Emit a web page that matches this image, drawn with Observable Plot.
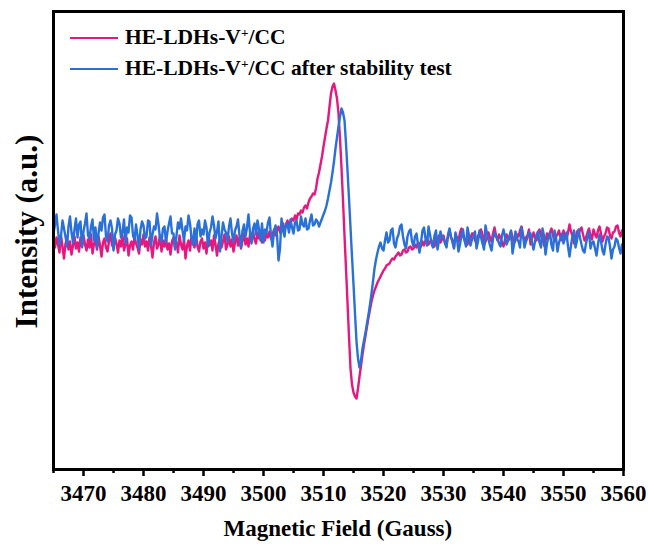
<!DOCTYPE html>
<html>
<head>
<meta charset="utf-8">
<script src="https://cdn.jsdelivr.net/npm/d3@7"></script>
<script src="https://cdn.jsdelivr.net/npm/@observablehq/plot@0.6"></script>
<style>
  html, body { margin: 0; padding: 0; background: #fff; }
  #wrap { position: relative; width: 648px; height: 547px; font-family: 'Liberation Serif', 'Times New Roman', serif; font-weight: bold; color: #000; }
  .lab { position: absolute; white-space: nowrap; line-height: 1; }
  .leg { position: absolute; left: 70px; height: 24px; display: flex; align-items: center; font-size: 21.5px; white-space: nowrap; line-height: 1; }
  .leg .sw { width: 48px; height: 0; border-top: 2.5px solid; margin-right: 7px; }
  sup { font-size: 0.62em; vertical-align: 0.55em; line-height: 0; }
</style>
</head>
<body>
<div id="wrap"></div>
<script>
// Sampling grid of the spectrum (Gauss)
const fieldStart = 3465;
const fieldStep = 0.25;
const fieldCount = 381;

// Series: HE-LDHs-V+/CC (a.u.), one row = 5 G
const seriesRed = [
  -2, -9, 1, -6, -14, 3, -8, -20, -5, 0, -11, -3, -16, -7, 2, -10, -4, -13, 1, -8,
  3, -6, -12, -1, -9, 4, -15, -5, -2, -11, 2, -7, -18, -4, 0, -9, -13, -3, 5, -6,
  -10, 1, -5, -14, -2, -8, 3, -12, -6, 0, -17, -7, -3, -11, 2, -5, -9, -15, -1, -6,
  4, -8, -3, -12, 1, -7, -19, -4, 2, -10, -6, 3, -13, -2, -8, 0, -11, -5, -16, -3,
  1, -9, -4, -14, 3, -6, -11, -1, -20, -7, -2, -12, 2, -5, -9, 4, -8, -13, -3, 0,
  -10, -4, -15, 1, -7, -2, -12, 3, -6, -17, -5, 0, -9, -3, 4, -11, -6, 2, -8, -1,
  -13, -4, 3, -7, 1, -10, -2, 5, -6, 0, -8, 4, -3, 7, -1, -5, 6, 0, 3, -4,
  2, -2, 5, 1, 7, 0, 4, 9, 3, 8, 12, 6, 10, 15, 9, 13, 18, 12, 16, 20,
  18, 23, 19, 25, 24, 28, 26, 31, 33, 30, 36, 40, 42, 45, 44, 50, 60, 66, 74, 82,
  92, 101, 110, 118, 132, 145, 152, 155, 148, 140, 125, 100, 71, 38, 3, -30, -64, -98, -130, -146,
  -154, -158, -160, -150, -138, -127, -116, -106, -97, -88, -79, -71, -63, -57, -52, -48, -44, -41, -38, -35,
  -32, -30, -27, -26, -25, -22, -20, -21, -18, -16, -14, -17, -16, -12, -11, -14, -13, -9, -8, -11,
  -10, -6, -9, -4, -5, -8, -3, -7, -2, 1, -6, -3, -2, -7, -8, -1, 0, 3, -4, -1,
  3, -4, -6, 2, 8, 1, -2, -9, 4, 0, -3, 6, 10, 2, -1, -5, -6, 3, 0, 5,
  5, -2, -4, 3, 2, 9, 4, -7, -3, 0, 6, 1, -3, 5, 11, 3, -2, 4, 0, -4,
  -8, -1, 4, 0, -1, 7, 2, -5, -2, 4, 2, 8, 12, 3, -4, 1, 3, 9, -6, 0,
  6, 1, -2, 5, 9, 2, 1, -7, -2, 5, 0, 6, 10, 3, -3, 2, 4, 8, 1, -2,
  8, 3, -1, 6, 14, 7, 2, -5, -1, 7, 3, 9, 11, 4, -2, 1, 6, 10, 3, -1,
  9, 4, 1, 8, 12, 5, -3, 2, 5, 11, 10, 3, 0, 6, 7, 12, 13, 6, 2, 8,
  4
];

// Series: HE-LDHs-V+/CC after stability test (a.u.), one row = 5 G
const seriesBlue = [
  5, 14, 24, 8, -6, 3, 18, 10, 2, -8, 12, 22, 6, -4, 9, 20, 1, 14, 17, -9,
  7, 15, 25, 3, 0, 12, 19, -2, 11, -9, 5, 16, 8, 21, 24, 2, -3, 13, 18, 10,
  -12, 4, 8, 20, 15, 1, 6, 19, -5, 11, 6, 23, 21, 3, -1, 14, 3, -10, 9, 17,
  13, 0, 2, 18, 17, -7, 4, 12, 9, 25, 14, 0, -3, 10, 12, -4, 7, 15, 22, 5,
  5, -11, 3, 16, 10, 20, 8, -2, 12, 8, 23, 15, 1, -6, 10, -6, 14, 18, 2, 9,
  4, 18, 11, -8, 6, 11, 22, 13, 0, 7, 17, -13, 2, 16, 9, 6, -3, 12, 20, 5,
  -3, 8, 12, 19, 3, -9, 8, 14, 2, 11, 24, 6, -5, 10, 15, 4, 18, 9, -2, 15,
  -4, 9, 6, 16, 21, 3, -8, 7, 13, 4, -22, -10, 20, 8, 2, 15, 14, 6, 19, 11,
  5, 16, 18, 8, 9, 22, 14, 12, 20, 9, 10, 18, 24, 13, 14, 19, 17, 12, 16, 20,
  24, 28, 33, 40, 48, 56, 66, 77, 90, 101, 112, 122, 130, 126, 118, 95, 68, 40, 11, -18,
  -46, -75, -103, -120, -129, -122, -110, -102, -94, -85, -76, -66, -55, -43, -30, -21, -14, -8, -4, -10,
  -12, -2, 6, -4, -2, 8, 10, -5, -9, 0, 4, 12, 14, 2, -6, -10, 2, 7, 9, -3,
  -8, 2, 5, -6, -14, -4, 8, 11, 0, -7, 12, 4, -5, -9, 3, 8, -11, -2, 7, 1,
  1, -5, -9, 4, 10, 2, -4, -10, 6, 0, -13, -6, 4, 9, -2, -8, 11, 3, -7, -1,
  2, 7, -10, -3, 8, 1, -5, -11, 13, 5, -1, -7, -12, 0, 6, 2, 0, -5, -8, 3,
  9, 2, -6, -2, 3, 8, -15, -6, 7, 0, -3, -9, 11, 4, -9, -3, 1, 6, 5, -4,
  -11, -3, 4, 7, -4, -9, 10, 3, -16, -5, 2, 6, -7, -12, 8, 1, -13, -4, 0, 5,
  -5, 1, 6, -8, -18, -7, 3, 8, -9, -2, 9, 1, -6, -12, -14, -5, 2, 6, -10, -4,
  -3, -10, -17, -6, 4, -3, -12, -16, -6, 2, 1, -8, -20, -11, -8, 0, -2, -9, -15, -6,
  -9
];

const majorTicks = [3470, 3480, 3490, 3500, 3510, 3520, 3530, 3540, 3550, 3560];
const minorTicks = [3465, 3475, 3485, 3495, 3505, 3515, 3525, 3535, 3545, 3555];
const seriesColors = ["#e6177e", "#2a70d9"];

if (seriesRed.length !== fieldCount || seriesBlue.length !== fieldCount) {
  throw new Error("length mismatch: red " + seriesRed.length + " blue " + seriesBlue.length);
}

const field = d3.range(fieldCount).map(i => fieldStart + i * fieldStep);
const red = field.map((x, i) => ({x, y: seriesRed[i]}));
const blue = field.map((x, i) => ({x, y: seriesBlue[i]}));

const chart = Plot.plot({
  width: 648,
  height: 547,
  marginLeft: 53,
  marginRight: 25,
  marginTop: 11,
  marginBottom: 78,
  style: { fontFamily: "'Liberation Serif', 'Times New Roman', serif", fontSize: "23px", fontWeight: "bold", color: "#000", background: "#fff" },
  x: { domain: [3465, 3560] },
  y: { domain: [-231, 227], axis: null },
  marks: [
    Plot.line(red, {x: "x", y: "y", stroke: seriesColors[0], strokeWidth: 2.4, strokeLinejoin: "round"}),
    Plot.line(blue, {x: "x", y: "y", stroke: seriesColors[1], strokeWidth: 2.4, strokeLinejoin: "round"}),
    Plot.axisX({ticks: majorTicks, tickSize: 7, tickPadding: 8, strokeWidth: 2.5, label: null, tickFormat: d => String(d)}),
    Plot.axisX({ticks: minorTicks, tickSize: 4, strokeWidth: 2.5, label: null, text: null}),
    Plot.frame({stroke: "#000", strokeWidth: 3})
  ]
});

const wrap = document.getElementById("wrap");
chart.style.position = "absolute";
chart.style.left = "0px";
chart.style.top = "0px";
wrap.appendChild(chart);

function addLegend(centerY, color, html) {
  const d = document.createElement("div");
  d.className = "leg";
  d.style.top = (centerY - 12) + "px";
  d.innerHTML = `<span class="sw" style="border-color:${color}"></span><span>${html}</span>`;
  wrap.appendChild(d);
}
addLegend(38, seriesColors[0], "HE-LDHs-V<sup>+</sup>/CC");
addLegend(69, seriesColors[1], "HE-LDHs-V<sup>+</sup>/CC after stability test");

const xt = document.createElement("div");
xt.className = "lab";
xt.style.fontSize = "23px";
xt.textContent = "Magnetic Field (Gauss)";
wrap.appendChild(xt);
xt.style.left = (338 - xt.offsetWidth / 2) + "px";
xt.style.top = (528 - xt.offsetHeight / 2) + "px";

const yt = document.createElement("div");
yt.className = "lab";
yt.style.fontSize = "31px";
yt.textContent = "Intensity (a.u.)";
wrap.appendChild(yt);
yt.style.left = (27 - yt.offsetWidth / 2) + "px";
yt.style.top = (231 - yt.offsetHeight / 2) + "px";
yt.style.transform = "rotate(-90deg)";
</script>
</body>
</html>
